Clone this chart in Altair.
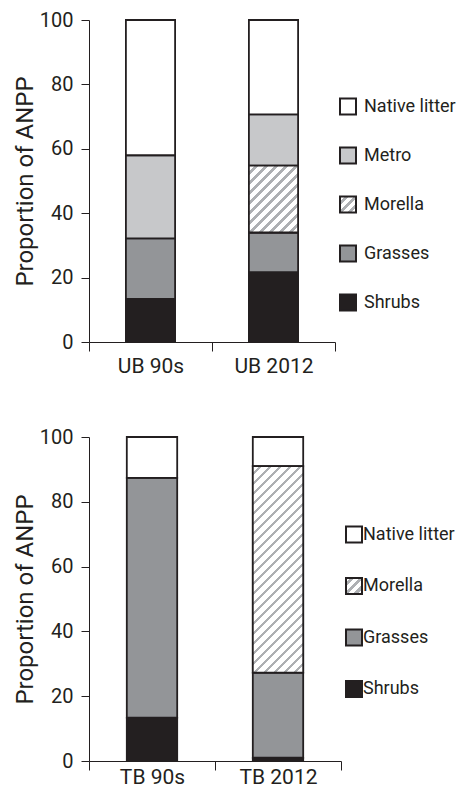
import json
import altair as alt

FONT = "Roboto"
INK = "#231f20"

# ---------------- data ----------------
top_sites = ["UB 90s", "UB 2012"]
top_cats = ["Shrubs", "Grasses", "Morella", "Metro", "Native litter"]
ub_90s = [13.4, 18.8, 0.0, 25.8, 42.0]
ub_2012 = [21.7, 12.3, 20.8, 15.9, 29.3]

bot_sites = ["TB 90s", "TB 2012"]
bot_cats = ["Shrubs", "Grasses", "Morella", "Native litter"]
tb_90s = [13.4, 74.0, 0.0, 12.6]
tb_2012 = [1.0, 26.3, 63.7, 9.0]

y_ticks = [0, 20, 40, 60, 80, 100]

cat_fill = {
    "Shrubs": "#231f20",
    "Grasses": "#939598",
    "Metro": "#c7c8ca",
    "Native litter": "#ffffff",
}
HATCH_GRAY = "#aeb0b3"
BAND_FRAC = 0.4


def hatch_gradient(w, h, period=10.0, frac=0.38):
    """Linear gradient giving '/' diagonal stripes at 45 degrees on a w x h box."""
    w = max(w, 1.0)
    h = max(h, 1.0)
    r = w / h
    k = (r + 1) / (r * r + 1)
    n = (w + h) / period
    stops = []
    i = 0
    while i / n < 1:
        a = i / n
        b = min((i + 1 - frac) / n, 1.0)
        c = min((i + 1) / n, 1.0)
        stops += [
            {"offset": round(a, 4), "color": "#ffffff"},
            {"offset": round(b, 4), "color": "#ffffff"},
            {"offset": round(b, 4), "color": HATCH_GRAY},
            {"offset": round(c, 4), "color": HATCH_GRAY},
        ]
        i += 1
    return {
        "gradient": "linear",
        "x1": 0, "y1": 0,
        "x2": round(k * r, 4), "y2": round(k, 4),
        "stops": stops,
    }


def panel(sites, cats, series, W, H, lx, ly, row_pad, lab_off, xlab_pad):
    bar_w = W / len(sites) * BAND_FRAC
    rows, hatch_rows = [], []
    for site, vals in zip(sites, series):
        base = 0.0
        for cat, v in zip(cats, vals):
            if v > 0:
                rec = {"site": site, "cat": cat, "y0": base, "y1": base + v}
                rows.append(rec)
                if cat == "Morella":
                    hr = dict(rec)
                    hr["hatch"] = hatch_gradient(bar_w, v * H / 100.0)
                    hatch_rows.append(hr)
            base += v

    dom = list(reversed(cats))
    rng = []
    for c in dom:
        if c == "Morella":
            rng.append(alt.ExprRef(expr=json.dumps(hatch_gradient(16, 16, period=9.0, frac=0.45))))
        else:
            rng.append(cat_fill[c])

    x = alt.X(
        "site:N", sort=sites,
        scale=alt.Scale(paddingInner=0, paddingOuter=0),
        axis=alt.Axis(
            title=None, labelAngle=0, tickBand="extent", tickSize=9,
            labelPadding=xlab_pad, labelFont=FONT, labelFontSize=21, labelColor=INK,
            domainColor=INK, tickColor=INK, domainWidth=1, tickWidth=1,
        ),
    )
    y = alt.Y(
        "y0:Q",
        scale=alt.Scale(domain=[0, 100], nice=False),
        axis=alt.Axis(
            values=y_ticks, title="Proportion of ANPP", grid=False,
            tickSize=8, labelPadding=8, titlePadding=2,
            labelFont=FONT, labelFontSize=20, labelColor=INK,
            titleFont=FONT, titleFontSize=24, titleFontWeight="normal",
            titleColor=INK, domainColor=INK, tickColor=INK,
            domainWidth=1, tickWidth=1,
        ),
    )
    y2 = alt.Y2("y1:Q")

    bars = alt.Chart(alt.Data(values=rows)).mark_bar(
        width=alt.RelativeBandSize(BAND_FRAC), stroke=INK, strokeWidth=1.8,
    ).encode(
        x=x, y=y, y2=y2,
        color=alt.Color(
            "cat:N",
            scale=alt.Scale(domain=dom, range=rng),
            legend=alt.Legend(
                title=None, orient="none", legendX=lx, legendY=ly,
                symbolType="square", symbolSize=256,
                symbolStrokeColor=INK, symbolStrokeWidth=2,
                labelFont=FONT, labelFontSize=18, labelColor=INK,
                labelOffset=lab_off, rowPadding=row_pad, labelLimit=300,
            ),
        ),
    )
    hatch = alt.Chart(alt.Data(values=hatch_rows)).mark_bar(
        width=alt.RelativeBandSize(BAND_FRAC), stroke=INK, strokeWidth=1.8,
    ).encode(
        x=x, y=y, y2=y2,
        fill=alt.Fill("hatch:N", scale=None),
    )
    return alt.layer(bars, hatch).properties(width=W, height=H)


top = panel(top_sites, top_cats, [ub_90s, ub_2012], 246, 322, 250, 77.5, 25, 7, 4)
bottom = panel(bot_sites, bot_cats, [tb_90s, tb_2012], 252, 324, 256, 88.5, 27.5, 0, -4)

chart = (
    alt.vconcat(top, bottom, spacing=51)
    .resolve_scale(color="independent", x="independent", y="independent")
    .resolve_legend(color="independent")
    .configure_view(stroke=None)
    .properties(padding={"left": 5, "top": 2, "right": 0, "bottom": 2})
)

chart.save("out.html", embed_options={"renderer": "svg", "actions": False})
